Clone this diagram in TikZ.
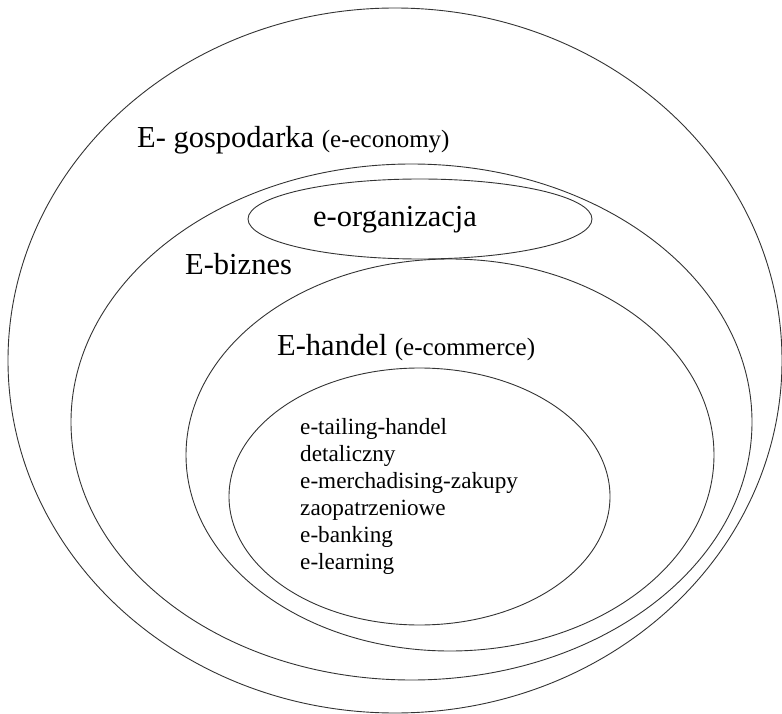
\documentclass[tikz,border=0pt]{standalone}
\usepackage{fontspec}
\setmainfont{Liberation Serif}
\usetikzlibrary{shapes.geometric}

\begin{document}
\begin{tikzpicture}[x=1pt, y=-1pt,
    ring/.style={ellipse, draw=black!80, line width=0.9pt, inner sep=0pt},
    biglabel/.style={anchor=base west, inner sep=0pt, font=\fontsize{30.5}{34}\selectfont},
    small/.style={font=\fontsize{23.2}{27}\selectfont}]
    \useasboundingbox (0,0) rectangle (782,714);

    % Nested areas
    \node[ring, minimum width=774, minimum height=705] (economy) at (395,360.5) {};
    \node[ring, minimum width=681, minimum height=516] (business) at (411.5,422) {};
    \node[ring, minimum width=344, minimum height=80] (organisation) at (420,219) {};
    \node[ring, minimum width=528, minimum height=392] (commerce) at (450,455) {};
    \node[ring, minimum width=381, minimum height=257] (services) at (419.5,496.5) {};

    % Labels
    \node[biglabel] (economylabel) at (137,148) {E- gospodarka {\fontsize{25}{28}\selectfont(e-economy)}};
    \node[biglabel] (businesslabel) at (185,275) {E-biznes};
    \node[biglabel] (organisationlabel) at (313,227) {e-organizacja};
    \node[biglabel] (commercelabel) at (277,355) {E-handel {\fontsize{25}{28}\selectfont(e-commerce)}};

    % Services list (anchored on the last line)
    \node[small, anchor=base west, align=left, inner sep=0pt] (serviceslist) at (300,569) {%
        e-tailing-handel\\
        detaliczny\\
        e-merchadising-zakupy\\
        zaopatrzeniowe\\
        e-banking\\
        e-learning};
\end{tikzpicture}
\end{document}
